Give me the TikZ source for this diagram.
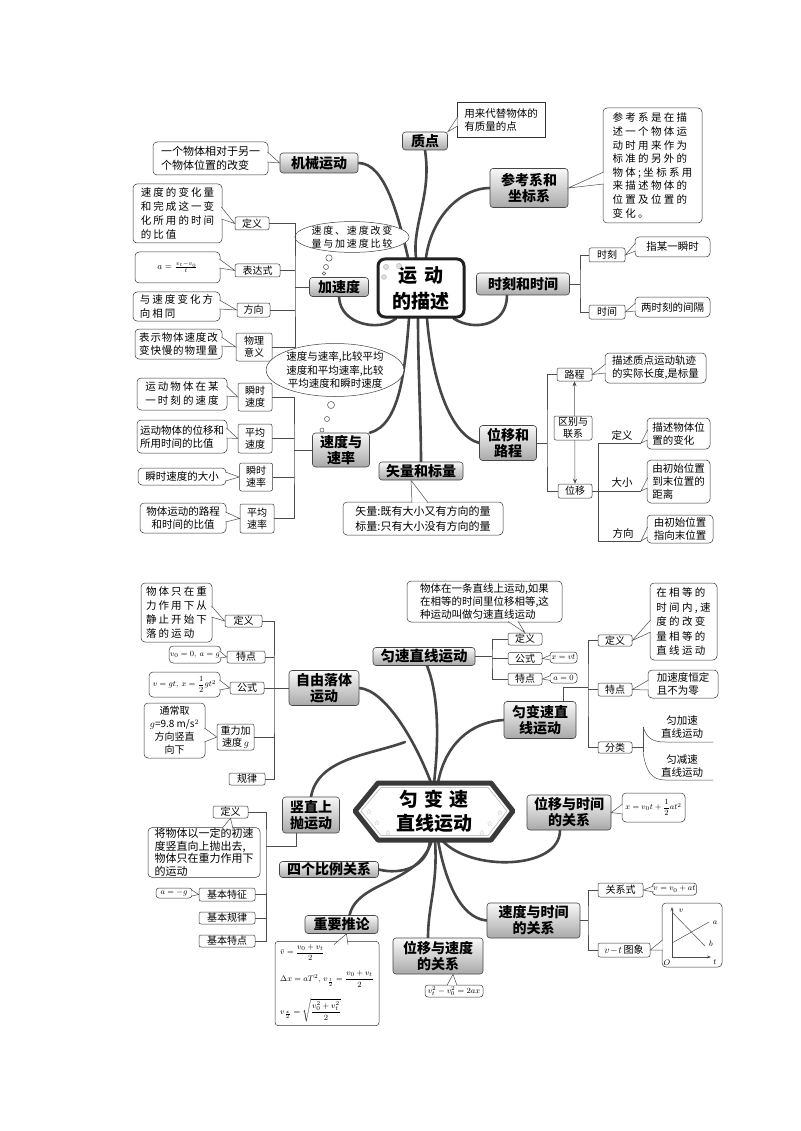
\documentclass[tikz,border=0pt]{standalone}
\usepackage{amsmath}
\usepackage[no-math]{fontspec}
\setmainfont{Noto Sans CJK SC}
\newfontfamily\symf{DejaVu Sans}
\usetikzlibrary{calc,arrows.meta,shapes.geometric}
\pgfdeclarelayer{bg}
\pgfsetlayers{bg,main}
\tikzset{
 sz/.style 2 args={minimum width=#1pt, minimum height=#2pt},
 topic/.style={draw=gray!55!black, rounded corners=3pt, top color=gray!5, bottom color=gray!68, font=\bfseries\fontsize{14}{16}\selectfont, align=center, inner sep=1pt, line width=0.6pt},
 subb/.style={draw=black!80, rounded corners=2pt, fill=white, font=\fontsize{10}{12}\selectfont, align=center, inner sep=1pt, line width=0.5pt},
 leaf/.style={draw=black!80, rounded corners=4pt, fill=white, font=\fontsize{10.5}{13}\selectfont, align=left, inner sep=1pt, line width=0.5pt},
 spaced/.style={font=\fontsize{10.5}{14}\selectfont\addfontfeature{LetterSpace=20}},
 branch/.style={line width=2.6pt, draw=gray!55!black, line cap=round},
 conn/.style={line width=0.5pt, draw=black!70},
 lbl/.style={font=\fontsize{10.5}{12.5}\selectfont, inner sep=1pt, align=center},
 bubble/.style={draw=black!75, ellipse, fill=white, inner sep=0pt, line width=0.5pt, align=center},
 fm/.style={font=\fontsize{8.5}{10}\selectfont},
 star/.style={font=\symf\fontsize{7}{7}\selectfont, text=gray!80, inner sep=0pt},
}
\newcommand\callout[3]{\fill[white] #1--#2--#3--cycle; \draw[conn] #1--#2--#3;}
\begin{document}
\begin{tikzpicture}[x=1pt,y=-1pt]
\useasboundingbox (0,0) rectangle (800,1131);
\begin{pgfonlayer}{bg}
\fill[white] (0,0) rectangle (800,1131);
\end{pgfonlayer}

% ================= TOP MAP =================
\node[draw=gray!25!black, line width=3pt, rounded corners=7pt, fill=white, sz={86}{58}, font=\bfseries\fontsize{19}{26}\selectfont, align=center] (ydms) at (421,288) {运\hspace{0.4em}动\\的描述};
\draw[gray!60, fill=gray!25] (386,267) circle (2.6pt) (399,266) circle (2.6pt) (384,277) circle (2.4pt);

\node[topic, sz={45}{18}] (zd) at (425,141) {质点};
\node[topic, sz={78}{20}] (jxyd) at (319,163) {机械运动};
\node[topic, sz={78}{39}] (ckx) at (529,188) {参考系和\\坐标系};
\node[topic, sz={93}{22}] (sksj) at (523,284) {时刻和时间};
\node[topic, sz={59}{19}] (jsd) at (339,287) {加速度};
\node[topic, sz={57}{34}] (sdsl) at (341,450) {速度与\\速率};
\node[topic, sz={84}{18}] (slbl) at (421,471) {矢量和标量};
\node[topic, sz={57}{35}] (wyl) at (508,443) {位移和\\路程};

\begin{pgfonlayer}{bg}
\draw[branch] (jxyd.east) .. controls (385,163) and (398,215) .. ([xshift=-13pt]ydms.north);
\draw[branch] (zd.south) .. controls (432,195) and (412,225) .. ([xshift=-5pt]ydms.north);
\draw[branch] (ckx.west) .. controls (462,188) and (432,215) .. ([xshift=5pt]ydms.north);
\draw[branch] ([xshift=-16pt]sksj.south) .. controls (507,325) and (475,332) .. ([xshift=-12pt]ydms.south east);
\draw[branch] (jsd.south) .. controls (340,325) and (380,332) .. ([xshift=-25pt]ydms.south);
\draw[branch] (sdsl.north east) .. controls (400,425) and (405,370) .. ([xshift=-12pt]ydms.south);
\draw[branch] (slbl.north) .. controls (421,420) and (418,370) .. ([xshift=-3pt]ydms.south);
\draw[branch] (wyl.west) .. controls (450,435) and (432,380) .. ([xshift=6pt]ydms.south);
\end{pgfonlayer}

% 质点
\node[leaf, rounded corners=0pt, sz={88}{35}] (zdl) at (501,119.5) {用来代替物体的\\有质量的点};
\callout{(457.6,117)}{(zd.north east)}{(457.6,126)}
% 机械运动
\node[leaf, sz={115}{33}, font=\fontsize{11}{14}\selectfont] (jxl) at (210.5,158.5) {一个物体相对于另一\\个物体位置的改变};
\callout{(267.4,152)}{(jxyd.west)}{(267.4,162)}
% 参考系
\node[leaf, sz={99}{115}, font=\fontsize{10.5}{13.6}\selectfont\addfontfeature{LetterSpace=22}] (ckl) at (652.5,165.5) {参考系是在描\\述一个物体运\\动时用来作为\\标准的另外的\\物体;坐标系用\\来描述物体的\\位置及位置的\\变化。};
\callout{(603.6,172)}{(ckx.east)}{(603.6,184)}
% 时刻和时间
\node[subb, sz={36}{14}] (sk1) at (607,255) {时刻};
\node[subb, sz={36}{14}] (sk2) at (607,312) {时间};
\node[leaf, sz={75}{20}] (sk1l) at (672.5,247) {指某一瞬时};
\node[leaf, sz={75}{20}] (sk2l) at (672.5,307) {两时刻的间隔};
\callout{(635.6,243)}{(sk1.east)}{(635.6,251)}
\callout{(635.6,303)}{(sk2.east)}{(635.6,311)}
\coordinate (b1) at (580,284);
\draw[conn] (sksj.east) -- (b1);
\draw[conn] (sk1.west) -| (b1) |- (sk2.west);

% 加速度
\node[bubble, sz={103}{28}, font=\fontsize{10}{12.5}\selectfont\addfontfeature{LetterSpace=18}] (tb1) at (352,237) {速度、速度改变\\量与加速度比较};
\draw[conn, fill=white] (329,258) circle (3.2pt) (326,267) circle (2.5pt) (324,273.5) circle (1.8pt);
\node[subb, sz={34}{13}] (jdy) at (252,223.5) {定义};
\node[subb, sz={45}{13}] (bds) at (257.5,270.5) {表达式};
\node[subb, sz={33}{14}] (fx) at (253.5,310) {方向};
\node[subb, sz={36}{28}] (wlyy) at (254,347) {物理\\意义};
\node[leaf, spaced, sz={89}{59}] (jdyl) at (177.5,213.5) {速度的变化量\\和完成这一变\\化所用的时间\\的比值};
\node[leaf, sz={85}{31}, align=center, font=\fontsize{9}{11}\selectfont] (bdsl) at (177.5,267.5) {$a=\frac{v_t-v_0}{t}$};
\node[leaf, spaced, sz={87}{29}] (fxl) at (176.5,306.5) {与速度变化方\\向相同};
\node[leaf, sz={87}{30}, font=\fontsize{10.5}{13}\selectfont\addfontfeature{LetterSpace=8}] (wlyyl) at (178.5,344) {表示物体速度改\\变快慢的物理量};
\callout{(221.4,207)}{(jdy.west)}{(221.4,219)}
\callout{(219.4,259)}{(bds.west)}{(219.4,268)}
\callout{(219.4,300)}{(fx.west)}{(219.4,309)}
\callout{(221.4,337)}{(wlyy.west)}{(221.4,346)}
\coordinate (b2) at (295,287);
\draw[conn] (jsd.west) -- (b2);
\draw[conn] (jdy.east) -| (b2) |- (wlyy.east);
\draw[conn] (bds.east) -- (bds.east -| b2);
\draw[conn] (fx.east) -- (fx.east -| b2);

% 速度与速率
\node[bubble, sz={126}{53}, font=\fontsize{10.5}{13.5}\selectfont] (tb2) at (335,370) {速度与速率,比较平均\\速度和平均速率,比较\\平均速度和瞬时速度};
\draw[conn, fill=white] (331,405) circle (3.5pt) (327,419) circle (2.5pt) (322,430) circle (2pt);
\node[subb, sz={34}{28}] (ss1) at (255,397) {瞬时\\速度};
\node[subb, sz={34}{29}] (ss2) at (255,438.5) {平均\\速度};
\node[subb, sz={33}{28}] (ss3) at (256,477) {瞬时\\速率};
\node[subb, sz={34}{29}] (ss4) at (257,518.5) {平均\\速率};
\node[leaf, spaced, sz={90}{32}] (ss1l) at (182,394) {运动物体在某\\一时刻的速度};
\node[leaf, sz={90}{33}] (ss2l) at (182,436.5) {运动物体的位移和\\所用时间的比值};
\node[leaf, sz={88}{17}] (ss3l) at (182,476.5) {瞬时速度的大小};
\node[leaf, sz={86}{30}, align=center] (ss4l) at (183,518) {物体运动的路程\\和时间的比值};
\callout{(226.4,386)}{(ss1.west)}{(226.4,396)}
\callout{(226.4,428)}{(ss2.west)}{(226.4,438)}
\callout{(225.4,472)}{(ss3.west)}{(225.4,481)}
\callout{(225.4,512)}{(ss4.west)}{(225.4,522)}
\coordinate (b3) at (294,450);
\draw[conn] (sdsl.west) -- (b3);
\draw[conn] (ss1.east) -| (b3) |- (ss4.east);
\draw[conn] (ss2.east) -- (ss2.east -| b3);
\draw[conn] (ss3.east) -- (ss3.east -| b3);

% 矢量和标量
\node[leaf, sz={160}{33}, font=\fontsize{11}{15}\selectfont] (sll) at (423,518.5) {矢量:既有大小又有方向的量\\标量:只有大小没有方向的量};
\callout{(412,502.6)}{([xshift=-10pt]slbl.south)}{(428,502.6)}

% 位移和路程
\node[subb, sz={35}{13}] (lc) at (574.5,374.5) {路程};
\node[subb, sz={34}{14}] (wy) at (575,491) {位移};
\draw[conn, {Stealth[length=5pt,width=4pt]}-{Stealth[length=5pt,width=4pt]}] (lc.south) -- (wy.north);
\node[subb, sz={38}{24}] (qb) at (573,428) {区别与\\联系};
\node[leaf, sz={101}{30}] (lcl) at (655.5,368) {描述质点运动轨迹\\的实际长度,是标量};
\callout{(605.6,364)}{(lc.east)}{(605.6,373)}
\coordinate (b4) at (547,443);
\draw[conn] (wyl.east) -- (b4);
\draw[conn] (lc.west) -| (b4) |- (wy.west);
\node[lbl] (wyd) at (622,435) {定义};
\node[lbl] (wyx) at (622,483) {大小};
\node[lbl] (wyf) at (623,533) {方向};
\coordinate (u1) at (641,443);
\coordinate (u2) at (641,491);
\coordinate (u3) at (641,541);
\coordinate (b5) at (598,491);
\draw[conn] (u1) -- (u1 -| b5) -- (u3 -| b5) -- (u3);
\draw[conn] (wy.east) -- (u2);
\node[leaf, sz={63}{31}] (wy1) at (678.5,433.5) {描述物体位\\置的变化};
\node[leaf, sz={63}{43}] (wy2) at (678.5,481.5) {由初始位置\\到末位置的\\距离};
\node[leaf, sz={66}{28}] (wy3) at (680,529) {由初始位置\\指向末位置};
\callout{(647.6,430)}{(u1)}{(647.6,440)}
\callout{(647.6,478)}{(u2)}{(647.6,488)}
\callout{(647.6,527)}{(u3)}{(647.6,537)}

% ================= BOTTOM MAP =================
\node[sz={158}{57}] (hex) at (434,811.5) {};
\node[topic, sz={102}{18}, font=\bfseries\fontsize{14.5}{16}\selectfont] (yszx) at (424,656.5) {匀速直线运动};
\node[topic, sz={70}{35}] (zyl) at (324,688) {自由落体\\运动};
\node[topic, sz={72}{37}] (ybs) at (540,720) {匀变速直\\线运动};
\node[topic, sz={57}{36}] (szss) at (311,815) {竖直上\\抛运动};
\node[topic, sz={99}{16}] (sgbl) at (329,869.5) {四个比例关系};
\node[topic, sz={73}{18}] (zytl) at (341.5,924.5) {重要推论};
\node[topic, sz={84}{35}] (wysj) at (569,812.5) {位移与时间\\的关系};
\node[topic, sz={93}{35}] (sdsj) at (533.5,920.5) {速度与时间\\的关系};
\node[topic, sz={90}{36}] (wysd) at (438,956) {位移与速度\\的关系};

\begin{pgfonlayer}{bg}
\draw[branch] ([xshift=3pt]yszx.south) .. controls (437,690) and (440,730) .. ([xshift=0pt]hex.north);
\draw[branch] (zyl.east) .. controls (385,690) and (415,740) .. ([xshift=-3pt]hex.north);
\draw[branch] (ybs.west) .. controls (470,722) and (445,745) .. ([xshift=4pt]hex.north);
\draw[branch] (szss.north) .. controls (318,758) and (370,755) .. (405,742);
\draw[branch] ([xshift=-4pt]hex.south) .. controls (428,868) and (400,875) .. (sgbl.east);
\draw[branch] ([xshift=-2pt]hex.south) .. controls (418,885) and (358,880) .. ([xshift=8pt]zytl.north);
\draw[branch] ([xshift=1pt]hex.south) .. controls (438,885) and (428,905) .. ([xshift=-10pt]wysd.north);
\draw[branch] ([xshift=4pt]hex.south) .. controls (445,880) and (460,918) .. (sdsj.west);
\draw[branch] ([xshift=8pt]hex.south) .. controls (470,872) and (560,870) .. ([xshift=-9pt]wysj.south);
\end{pgfonlayer}

\draw[line width=5pt, gray!45!black, line join=round, fill=white] (355,811) -- (378,783) -- (491,783) -- (513,811) -- (491,840) -- (378,840) -- cycle;
\draw[line width=0.8pt, gray!45] (361,811) -- (381,787.5) -- (488,787.5) -- (507,811) -- (488,835.5) -- (381,835.5) -- cycle;
\node[font=\bfseries\fontsize{19}{24}\selectfont, align=center] (hext) at (hex.center) {匀\hspace{0.3em}变\hspace{0.3em}速\\直线运动};
\node[star] (s1) at (369,812) {☆};
\node[star] (s2) at (377,823) {☆};
\node[star] (s3) at (388,833) {☆};
\node[star] (s4) at (500,813) {☆};
\node[star] (s5) at (490,824) {☆};
\node[star] (s6) at (482,833) {☆};

% 匀速直线运动
\node[subb, sz={34}{12}] (ys1) at (525,639) {定义};
\node[subb, sz={34}{12}] (ys2) at (525,658.5) {公式};
\node[subb, sz={34}{12}] (ys3) at (525,679) {特点};
\node[leaf, sz={155}{41}, font=\fontsize{10.5}{12.8}\selectfont] (ys1l) at (484.5,601.5) {物体在一条直线上运动,如果\\在相等的时间里位移相等,这\\种运动叫做匀速直线运动};
\node[leaf, sz={27}{11}, fm, align=center, rounded corners=3pt] (ys2l) at (563.5,657.5) {$x=vt$};
\node[leaf, sz={27}{10}, fm, align=center, rounded corners=3pt] (ys3l) at (563.5,678) {$a=0$};
\callout{(508,621.4)}{(ys1.north)}{(518,621.4)}
\callout{(550.6,655)}{(ys2.east)}{(550.6,660)}
\callout{(550.6,675.5)}{(ys3.east)}{(550.6,680.5)}
\coordinate (c1) at (492,658.5);
\draw[conn] (yszx.east) -- (yszx.east -| c1);
\draw[conn] (ys1.west) -| (c1) |- (ys3.west);
\draw[conn] (ys2.west) -- (c1);

% 匀变速直线运动
\node[subb, sz={34}{11}] (yb1) at (615,640.5) {定义};
\node[subb, sz={34}{13}] (yb2) at (615,689.5) {特点};
\node[subb, sz={34}{11}] (yb3) at (615,747.5) {分类};
\node[leaf, sz={67}{77}, font=\fontsize{10.5}{14.5}\selectfont\addfontfeature{LetterSpace=22}] (yb1l) at (683.5,621.5) {在相等的\\时间内,速\\度的改变\\量相等的\\直线运动};
\node[leaf, sz={70}{28}] (yb2l) at (683,684) {加速度恒定\\且不为零};
\callout{(650.6,620)}{(yb1.east)}{(650.6,632)}
\callout{(648.6,680)}{(yb2.east)}{(648.6,690)}
\coordinate (c2) at (588,687);
\draw[conn] ([xshift=23pt]ybs.north) |- (c2);
\draw[conn] (yb1.west) -| (c2) |- (yb3.west);
\draw[conn] (yb2.west) -- (yb2.west -| c2);
\coordinate (c3) at (643,747.5);
\draw[conn] (yb3.east) -- (c3);
\draw[conn] (643,727) -- (643,752);
\draw[conn] (643,727) .. controls (647,738) and (652,742) .. (665,742) -- (713,742);
\draw[conn] (643,752) .. controls (646,772) and (652,780) .. (665,780) -- (713,780);
\node[lbl] (yjs) at (682,727) {匀加速\\直线运动};
\node[lbl] (yjs2) at (682,766) {匀减速\\直线运动};

% 自由落体运动
\node[subb, sz={37}{12}] (zy1) at (243.5,621) {定义};
\node[subb, sz={38}{12}] (zy2) at (246,657) {特点};
\node[subb, sz={34}{12}] (zy3) at (247,688) {公式};
\node[subb, sz={37}{26}] (zy4) at (235.5,737) {重力加\\速度\,$g$};
\node[subb, sz={36}{12}] (zy5) at (247,779) {规律};
\node[leaf, sz={71}{59}, font=\fontsize{10.5}{14}\selectfont\addfontfeature{LetterSpace=20}] (zy1l) at (176.5,612.5) {物体只在重\\力作用下从\\静止开始下\\落的运动};
\node[leaf, sz={50}{17}, fm, align=center] (zy2l) at (195,654.5) {$v_0=0,\ a=g$};
\node[leaf, sz={71}{25}, fm, align=center] (zy3l) at (184.5,684.5) {$v=gt,\ x=\dfrac{1}{2}gt^2$};
\node[leaf, sz={61}{55}, align=center, font=\fontsize{10}{13}\selectfont] (zy4l) at (174.5,730.5) {通常取\\$g$=9.8 m/s$^2$\\方向竖直\\向下};
\callout{(211.4,606)}{(zy1.west)}{(211.4,617)}
\callout{(219.4,651)}{(zy2.west)}{(219.4,658)}
\callout{(219.4,680)}{(zy3.west)}{(219.4,690)}
\callout{(204.4,728)}{(zy4.west)}{(204.4,742)}
\coordinate (c4) at (274,688);
\draw[conn] (zyl.west) -- (c4);
\draw[conn] (zy1.east) -| (c4) |- (zy5.east);
\draw[conn] (zy2.east) -- (zy2.east -| c4);
\draw[conn] (zy3.east) -- (c4);
\draw[conn] (zy4.east) -- (zy4.east -| c4);

% 竖直上抛运动
\node[subb, sz={35}{12}] (sz1) at (230.5,812) {定义};
\node[leaf, sz={112}{49}, font=\fontsize{11}{12.5}\selectfont] (sz1l) at (204,852.5) {将物体以一定的初速\\度竖直向上抛出去,\\物体只在重力作用下\\的运动};
\node[subb, sz={56}{13}] (sz2) at (227,894.5) {基本特征};
\node[leaf, sz={36}{10}, fm, align=center, rounded corners=3pt] (sz2l) at (174,893) {$a=-g$};
\node[subb, sz={56}{12}] (sz3) at (227,918) {基本规律};
\node[subb, sz={56}{12}] (sz4) at (227,941) {基本特点};
\callout{(222,828.6)}{(sz1.south)}{(233,828.6)}
\callout{(191.6,890)}{(sz2.west)}{(191.6,896)}
\coordinate (c5) at (266,846);
\draw[conn] ([xshift=-15pt]szss.south) |- (c5);
\draw[conn] (sz1.east) -| (c5) |- (sz4.east);
\draw[conn] (sz2.east) -- (sz2.east -| c5);
\draw[conn] (sz3.east) -- (sz3.east -| c5);

% 重要推论
\node[leaf, sz={104}{79}, font=\fontsize{8.5}{10}\selectfont, rounded corners=3pt, inner sep=3pt] (zytll) at (327,983.5) {$\bar v=\dfrac{v_0+v_t}{2}$\\[9pt] $\Delta x=aT^2,\,v_{\frac t2}=\dfrac{v_0+v_t}{2}$\\[10pt] $v_{\frac x2}=\sqrt{\dfrac{v_0^2+v_t^2}{2}}$};
\callout{(334,944.6)}{([xshift=5pt]zytl.south)}{(348,944.6)}

% 位移与时间
\node[leaf, sz={63}{29}, fm, align=center] (wysjl) at (653.5,807.5) {$x=v_0t+\dfrac{1}{2}at^2$};
\callout{(622.6,804)}{(wysj.east)}{(622.6,814)}

% 速度与时间
\node[subb, sz={45}{14}] (gxs) at (620.5,890) {关系式};
\node[leaf, sz={43}{12}, fm, align=center, rounded corners=3pt] (gxsl) at (674.5,889) {$v=v_0+at$};
\node[subb, sz={52}{14}] (vt) at (624,950) {$v\!-\!t$\,图象};
\node[leaf, sz={60}{64}] (gr) at (692,935) {};
\callout{(653.6,886)}{(gxs.east)}{(653.6,892)}
\callout{(662.6,940)}{(vt.east)}{(662.6,950)}
\coordinate (c6) at (588,920.5);
\draw[conn] (sdsj.east) -- (c6);
\draw[conn] (gxs.west) -| (c6) |- (vt.west);
\coordinate (go) at (672,957);
\draw[conn, -{Stealth[length=4pt,width=3pt]}] (go) -- (672,907);
\draw[conn, -{Stealth[length=4pt,width=3pt]}] (go) -- (711,957);
\draw[conn] (672,943) -- (709,922);
\draw[conn] (672,912) -- (705,946);
\node[fm] (gv) at (681,911) {$v$};
\node[fm] (gO) at (667,963) {$O$};
\node[fm] (gt) at (715,962) {$t$};
\node[fm] (ga) at (715,923) {$a$};
\node[fm] (gb) at (711,944) {$b$};

% 位移与速度
\node[leaf, sz={58}{12}, fm, align=center, rounded corners=3pt] (wysdl) at (454,991) {$v_t^2-v_0^2=2ax$};
\callout{(447,985.4)}{([xshift=15pt]wysd.south)}{(457,985.4)}

\end{tikzpicture}
\end{document}
